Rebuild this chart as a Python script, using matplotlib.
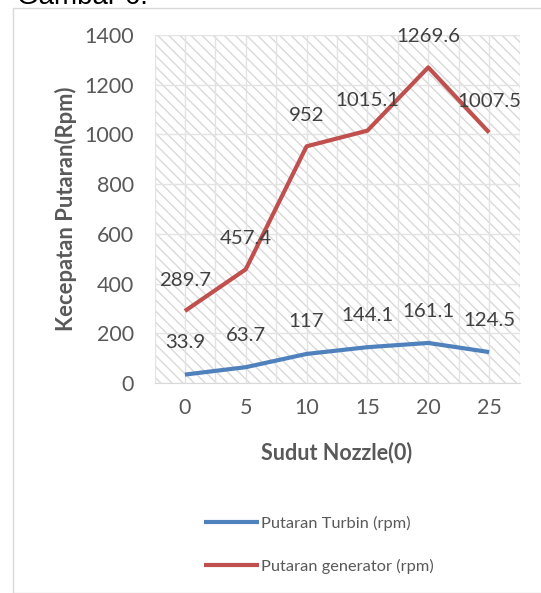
import matplotlib.pyplot as plt
from matplotlib.patches import Rectangle

plt.rcParams['font.family'] = ['Lato', 'DejaVu Sans']
plt.rcParams['hatch.color'] = '#D9D9D9'
plt.rcParams['hatch.linewidth'] = 1.0

# data
sudut = ['0', '5', '10', '15', '20', '25']
turbin = [33.9, 63.7, 117, 144.1, 161.1, 124.5]
generator = [289.7, 457.4, 952, 1015.1, 1269.6, 1007.5]

fig = plt.figure(figsize=(5.41, 5.93), dpi=100)
ax = fig.add_axes([0.2856, 0.3541, 0.6747, 0.587])

# hatched plot area, like the excel pattern fill
ax.patch.set_facecolor('white')
ax.patch.set_hatch('\\\\\\')
ax.patch.set_edgecolor('#D9D9D9')

x = list(range(len(sudut)))
ax.plot(x, turbin, color='#4F81BD', lw=3, solid_capstyle='butt', label='Putaran Turbin (rpm)')
ax.plot(x, generator, color='#C0504D', lw=3, solid_capstyle='butt', label='Putaran generator (rpm)')

for xi, v in zip(x, turbin):
    ax.annotate(f'{v:g}', (xi, v), xytext=(0, 23), textcoords='offset points',
                ha='center', va='center', fontsize=14.7, color='#404040')
for xi, v in zip(x, generator):
    ax.annotate(f'{v:g}', (xi, v), xytext=(0, 22), textcoords='offset points',
                ha='center', va='center', fontsize=14.7, color='#404040')

ax.set_xlim(-0.5, len(sudut) - 0.5)
ax.set_ylim(0, 1400)
ax.set_yticks(range(0, 1401, 200))
ax.set_xticks(x)
ax.set_xticklabels(sudut)
ax.set_xticks([i + 0.5 for i in range(-1, len(sudut))], minor=True)
ax.tick_params(length=0, labelsize=15.5, labelcolor='#595959', pad=15, which='both')
ax.tick_params(axis='x', pad=11)
ax.grid(True, which='both', axis='x', color='#E3E3E3', lw=1)
ax.grid(True, which='major', axis='y', color='#E3E3E3', lw=1)
ax.set_axisbelow(True)
for s in ax.spines.values():
    s.set_visible(False)
ax.spines['bottom'].set_visible(True)
ax.spines['bottom'].set_color('#D9D9D9')

ax.set_xlabel('Sudut Nozzle(0)', fontsize=15.5, fontweight='bold', color='#595959', labelpad=17)
ax.set_ylabel('Kecepatan Putaran(Rpm)', fontsize=15.8, fontweight='bold', color='#595959', labelpad=5)

fig.legend(loc='center', bbox_to_anchor=(0.589, 0.081), ncol=1, frameon=False,
           fontsize=11.8, handlelength=3.35, handletextpad=0.12, labelspacing=1.68,
           labelcolor='#595959')

# chart border and cut-off caption
fig.patches.append(Rectangle((13 / 541, 0), 1, 1 - 8 / 593, transform=fig.transFigure,
                             fill=False, edgecolor='#D9D9D9', lw=1))
fig.text(17 / 541, 1 - 4 / 593, 'Gambar 6.', fontsize=20, color='#000000',
         va='baseline', family=['Liberation Sans', 'DejaVu Sans'])

fig.savefig('out.png', dpi=100)
